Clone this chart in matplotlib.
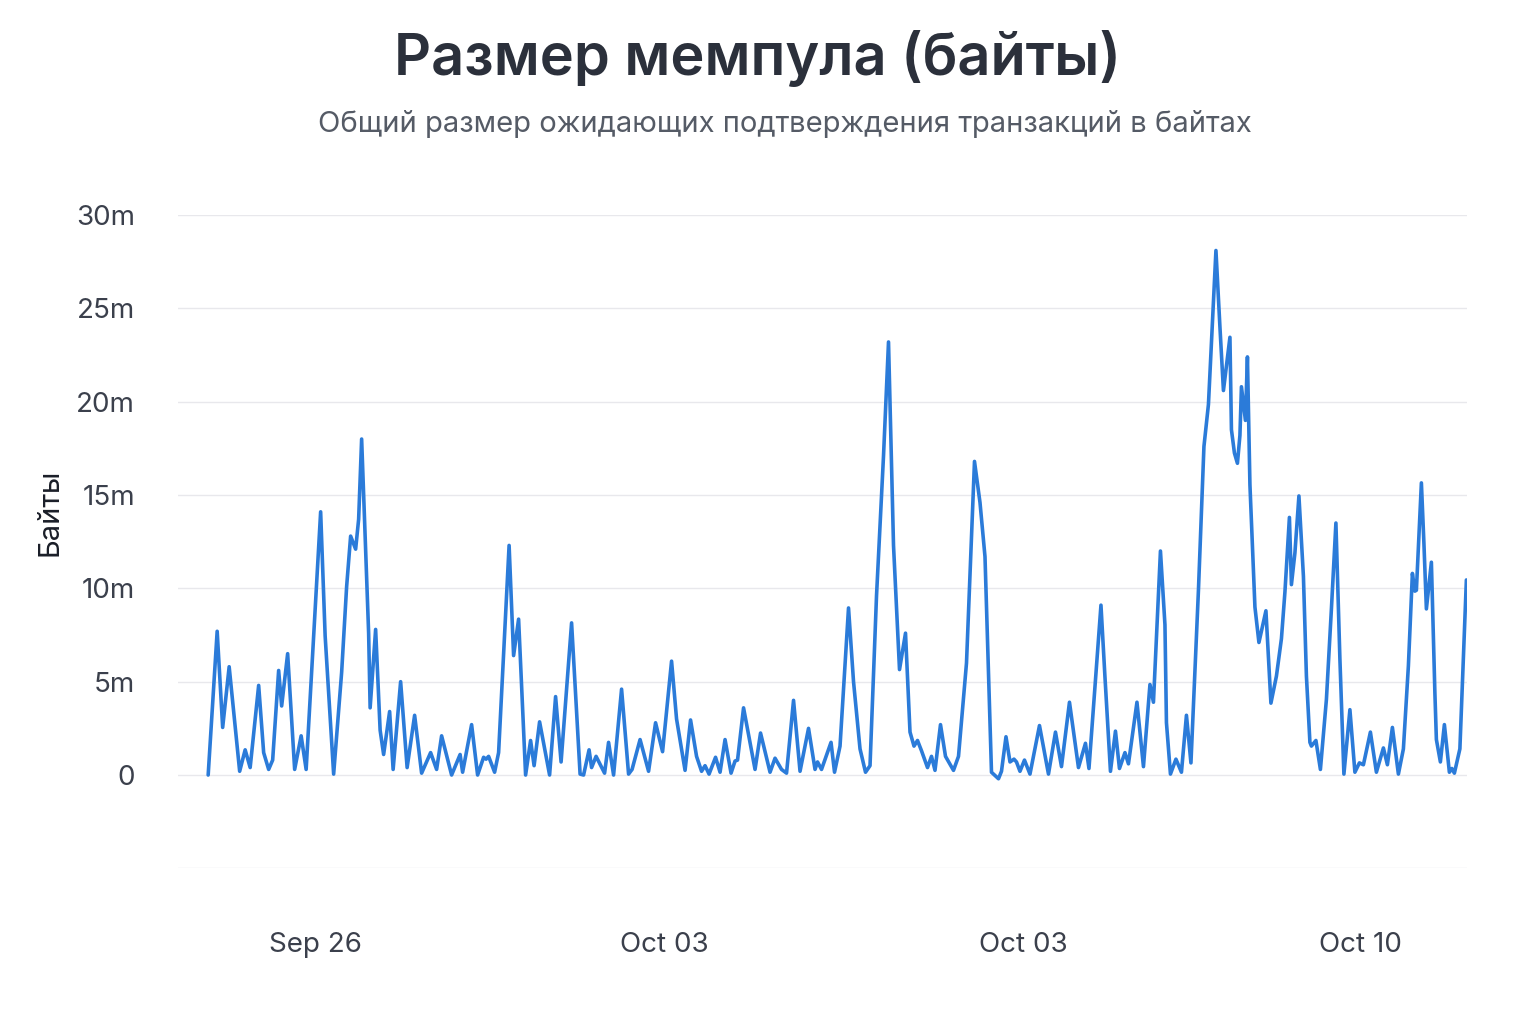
import matplotlib
matplotlib.use("Agg")
import matplotlib.pyplot as plt
from matplotlib.ticker import FuncFormatter

plt.rcParams['font.family'] = ['Inter', 'DejaVu Sans']

# days since start of the window
days = [
    0.00, 0.18, 0.29, 0.42, 0.63, 0.74, 0.84, 1.01, 1.11, 1.21, 1.29, 1.41, 1.47, 1.59,
    1.73, 1.86, 1.96, 2.25, 2.34, 2.51, 2.67, 2.77, 2.85, 2.95, 3.01, 3.07, 3.21, 3.24,
    3.35, 3.44, 3.51, 3.63, 3.70, 3.85, 3.98, 4.13, 4.27,
    4.45, 4.57, 4.67, 4.87, 5.04, 5.09, 5.27, 5.39, 5.51, 5.56, 5.61, 5.73, 5.81, 6.02,
    6.11, 6.21, 6.35, 6.45, 6.52, 6.63, 6.83, 6.95, 7.06, 7.27, 7.44, 7.51, 7.62, 7.67,
    7.76, 7.93, 8.01, 8.11, 8.27, 8.41, 8.48, 8.64,
    8.81, 8.95, 9.09, 9.27, 9.37, 9.54, 9.65, 9.77, 9.87, 9.94, 10.02, 10.15, 10.24,
    10.34, 10.46, 10.54, 10.59, 10.71, 10.94, 11.05, 11.24, 11.34, 11.47, 11.57, 11.71,
    11.84, 12.01, 12.14, 12.19, 12.27, 12.46, 12.53,
    12.64, 12.81, 12.91, 13.04, 13.15, 13.24, 13.37, 13.51, 13.61, 13.71, 13.83, 13.95,
    14.04, 14.12, 14.19, 14.27, 14.39, 14.47, 14.54, 14.65, 14.75, 14.91, 15.01, 15.17,
    15.33, 15.44, 15.54, 15.67, 15.81, 15.87, 15.96, 16.04, 16.12, 16.17, 16.24, 16.33,
    16.44, 16.63, 16.81, 16.95,
    17.07, 17.23, 17.41, 17.55, 17.62, 17.86, 17.94, 18.05, 18.15, 18.23, 18.34, 18.41,
    18.58, 18.71, 18.84, 18.91, 19.05, 19.14, 19.17, 19.25, 19.36, 19.47, 19.57, 19.66,
    19.81, 19.92, 20.01, 20.16, 20.24, 20.31, 20.44, 20.47, 20.53, 20.59, 20.64, 20.67,
    20.75, 20.79, 20.84, 20.94, 21.02, 21.16, 21.26,
    21.37, 21.47, 21.54, 21.63, 21.67, 21.74, 21.82, 21.91, 21.97, 22.04, 22.07, 22.16,
    22.25, 22.37, 22.47, 22.56, 22.64, 22.72, 22.84, 22.94, 23.03, 23.11, 23.25, 23.37,
    23.51, 23.59, 23.69, 23.81, 23.91, 24.01, 24.09, 24.14, 24.17, 24.27, 24.32, 24.37,
    24.47, 24.54, 24.57, 24.65, 24.73, 24.83, 24.88, 24.93, 25.04, 25.11, 25.17,
]

# mempool size, millions of bytes
mempool_mb = [
    0.0, 7.7, 2.55, 5.8, 0.2, 1.35, 0.4, 4.8, 1.2, 0.3, 0.8, 5.6, 3.7, 6.5,
    0.3, 2.1, 0.3, 14.1, 7.45, 0.05, 5.5, 10.1, 12.8, 12.1, 13.7, 18.0, 7.6, 3.6,
    7.8, 2.4, 1.1, 3.4, 0.3, 5.0, 0.4, 3.2, 0.1,
    1.2, 0.3, 2.1, 0.0, 1.1, 0.15, 2.7, 0.0, 0.95, 0.85, 1.0, 0.15, 1.2, 12.3,
    6.4, 8.35, 0.0, 1.85, 0.5, 2.85, 0.0, 4.2, 0.7, 8.15, 0.05, 0.0, 1.35, 0.4,
    1.0, 0.1, 1.75, 0.0, 4.6, 0.05, 0.3, 1.9,
    0.2, 2.8, 1.25, 6.1, 3.0, 0.25, 2.95, 1.0, 0.2, 0.5, 0.05, 0.95, 0.15,
    1.9, 0.1, 0.75, 0.8, 3.6, 0.3, 2.25, 0.15, 0.9, 0.3, 0.1, 4.0,
    0.2, 2.5, 0.3, 0.7, 0.3, 1.75, 0.15,
    1.55, 8.95, 5.0, 1.4, 0.15, 0.5, 9.6, 17.1, 23.2, 12.3, 5.65, 7.6,
    2.3, 1.55, 1.85, 1.3, 0.4, 1.0, 0.25, 2.7, 1.0, 0.25, 1.0, 6.0,
    16.8, 14.6, 11.7, 0.15, -0.2, 0.2, 2.05, 0.7, 0.85, 0.7, 0.2, 0.8,
    0.05, 2.65, 0.05, 2.3,
    0.45, 3.9, 0.4, 1.7, 0.35, 9.1, 5.25, 0.2, 2.35, 0.35, 1.2, 0.6,
    3.9, 0.45, 4.85, 3.9, 12.0, 8.05, 2.8, 0.05, 0.85, 0.15, 3.2, 0.65,
    9.9, 17.6, 19.85, 28.1, 24.0, 20.6, 23.45, 18.5, 17.25, 16.7, 18.2, 20.8,
    19.0, 22.4, 15.55, 9.0, 7.1, 8.8, 3.85,
    5.3, 7.3, 9.8, 13.8, 10.2, 11.9, 14.95, 10.65, 5.3, 1.75, 1.55, 1.85,
    0.3, 4.05, 8.9, 13.5, 6.2, 0.05, 3.5, 0.15, 0.65, 0.55, 2.3, 0.15,
    1.45, 0.55, 2.55, 0.05, 1.4, 5.85, 10.8, 9.85, 9.9, 15.65, 12.45, 8.9,
    11.4, 4.4, 1.9, 0.7, 2.7, 0.15, 0.35, 0.1, 1.4, 6.2, 10.45,
]

tick_days = [2.14, 9.12, 16.3, 23.06]
tick_labels = ["Sep 26", "Oct 03", "Oct 03", "Oct 10"]
y_ticks = [-5, 0, 5, 10, 15, 20, 25, 30]

fig = plt.figure(figsize=(15.36, 10.24), dpi=100)
ax = fig.add_axes([0.116, 0.152, 0.839, 0.638])

ax.plot(days, mempool_mb, color='#2b7bd9', linewidth=2.6,
        solid_joinstyle='round', solid_capstyle='round')

ax.set_xlim(-0.6, 25.18)
ax.set_ylim(-5, 30)
ax.set_yticks(y_ticks)
ax.yaxis.set_major_formatter(FuncFormatter(
    lambda v, p: "" if v < 0 else ("0" if v == 0 else f"{int(v)}m")))
ax.set_xticks(tick_days)
ax.set_xticklabels(tick_labels)

ax.grid(axis='y', color='#e8e8ec', linewidth=1.0)
ax.set_axisbelow(True)
for s in ax.spines.values():
    s.set_visible(False)
ax.tick_params(axis='both', length=0, labelsize=20, labelcolor='#3b404c')
ax.tick_params(axis='y', pad=31)
ax.tick_params(axis='x', pad=46)

ax.set_ylabel("Байты", fontsize=21, color='#1a1e28')
ax.yaxis.set_label_coords(-0.089, 0.545)

fig.text(0.493, 1 - 75 / 1024, "Размер мемпула (байты)", ha='center', va='baseline',
         fontsize=41.5, fontweight='semibold', color='#2b303b')
fig.text(0.511, 1 - 132 / 1024, "Общий размер ожидающих подтверждения транзакций в байтах",
         ha='center', va='baseline', fontsize=21, color='#555b66')

fig.savefig("out.png", dpi=100, facecolor='white')
